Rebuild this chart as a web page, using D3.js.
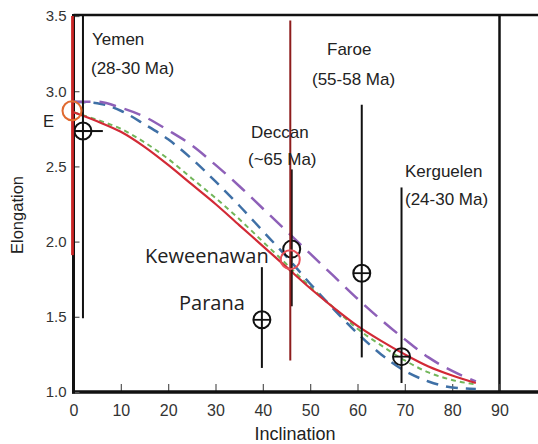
<!DOCTYPE html>
<html>
<head>
<meta charset="utf-8">
<script src="https://cdn.jsdelivr.net/npm/d3@7"></script>
<style>
  body { margin: 0; background: #fff; }
  svg { display: block; }
</style>
</head>
<body>
<div id="chart"></div>
<script>
// Model curves: elongation vs inclination
const inclGrid = [0, 5, 10, 15, 20, 25, 30, 35, 40, 45, 50, 55, 60, 65, 70, 75, 80, 85];
const redE    = [2.86, 2.80, 2.73, 2.63, 2.51, 2.38, 2.25, 2.11, 1.97, 1.83, 1.69, 1.56, 1.44, 1.34, 1.25, 1.17, 1.11, 1.06];
const greenE  = [2.86, 2.81, 2.75, 2.66, 2.55, 2.42, 2.29, 2.15, 2.00, 1.85, 1.70, 1.56, 1.42, 1.31, 1.21, 1.13, 1.08, 1.05];
const blueE   = [2.93, 2.92, 2.87, 2.78, 2.68, 2.55, 2.40, 2.24, 2.07, 1.90, 1.72, 1.55, 1.39, 1.25, 1.14, 1.07, 1.03, 1.02];
const purpleE = [2.93, 2.93, 2.89, 2.83, 2.74, 2.64, 2.51, 2.37, 2.22, 2.07, 1.92, 1.77, 1.62, 1.48, 1.35, 1.23, 1.14, 1.07];

// observed sites (black circles)
const sites    = ['Yemen', 'Deccan', 'Parana', 'Faroe', 'Kerguelen'];
const siteIncl = [2, 46.1, 39.8, 60.9, 69.3];
const siteE    = [2.735, 1.95, 1.48, 1.79, 1.235];
const siteLow  = [1.49, 1.57, 1.16, 1.23, 1.06];
const siteHigh = [3.5, 2.48, 1.83, 2.91, 2.36];
const siteCross = [true, false, true, true, true];
const yemenInclRange = [0, 6.2];

// reference E values (orange circles) with red bars
const refIncl = [0, 45.8];
const refE    = [2.87, 1.88];
const refLow  = [1.91, 1.21];
const refHigh = [3.5, 3.47];

const xTicks = [0, 10, 20, 30, 40, 50, 60, 70, 80, 90];
const yTicks = [1.0, 1.5, 2.0, 2.5, 3.0, 3.5];

const W = 538, H = 444;
const svg = d3.select('#chart').append('svg').attr('width', W).attr('height', H);

const x = d3.scaleLinear().domain([0, 90]).range([73.5, 499.5]);
const y = d3.scaleLinear().domain([1, 3.5]).range([392, 16]);

const font = 'Liberation Sans, Arial, Helvetica, sans-serif';

// frame lines (top and right part of the box)
svg.append('line').attr('x1', x(0)).attr('x2', W).attr('y1', 15).attr('y2', 15)
  .attr('stroke', '#111').attr('stroke-width', 2.5);
svg.append('line').attr('x1', x(90)).attr('x2', x(90)).attr('y1', 15).attr('y2', y(1))
  .attr('stroke', '#111').attr('stroke-width', 2.5);

// x axis
const xAxis = svg.append('g').attr('transform', 'translate(0,' + y(1) + ')')
  .call(d3.axisBottom(x).tickValues(xTicks).tickSizeInner(-8).tickSizeOuter(0).tickPadding(13));
xAxis.select('.domain').remove();
xAxis.selectAll('.tick line').attr('stroke', '#555').attr('stroke-width', 1.2);
xAxis.selectAll('text').attr('font-family', font).attr('font-size', 16).attr('fill', '#333');
svg.append('line').attr('x1', x(0) - 1.5).attr('x2', W).attr('y1', y(1)).attr('y2', y(1))
  .attr('stroke', '#111').attr('stroke-width', 3.5);

// y axis
const yAxis = svg.append('g').attr('transform', 'translate(' + x(0) + ',0)')
  .call(d3.axisLeft(y).tickValues(yTicks).tickFormat(d3.format('.1f')).tickSizeInner(-6).tickSizeOuter(0).tickPadding(7));
yAxis.select('.domain').remove();
yAxis.selectAll('.tick line').attr('stroke', '#555').attr('stroke-width', 1.2);
yAxis.selectAll('text').attr('font-family', font).attr('font-size', 15).attr('fill', '#333');
svg.append('line').attr('x1', x(0)).attr('x2', x(0)).attr('y1', 14).attr('y2', y(1) + 1.5)
  .attr('stroke', '#111').attr('stroke-width', 3);

// axis titles
svg.append('text').attr('transform', 'translate(23,215) rotate(-90)')
  .attr('text-anchor', 'middle').attr('font-family', font).attr('font-size', 16.5)
  .attr('fill', '#222').text('Elongation');
svg.append('text').attr('x', 295).attr('y', 440)
  .attr('text-anchor', 'middle').attr('font-family', font).attr('font-size', 18)
  .attr('fill', '#222').text('Inclination');

// model curves
const line = d3.line().x(d => x(d[0])).y(d => y(d[1])).curve(d3.curveMonotoneX);
const curves = [
  { vals: greenE, color: '#72b65a', width: 2, dash: '5,4' },
  { vals: blueE, color: '#3f70a6', width: 2.5, dash: '12,8' },
  { vals: purpleE, color: '#8e60b8', width: 2.5, dash: '17,9' },
  { vals: redE, color: '#d22a36', width: 2.2, dash: null }
];
curves.forEach(c => {
  svg.append('path')
    .datum(inclGrid.map((v, i) => [v, c.vals[i]]))
    .attr('d', line)
    .attr('fill', 'none')
    .attr('stroke', c.color)
    .attr('stroke-width', c.width)
    .attr('stroke-dasharray', c.dash);
});

// site error bars and circles
sites.forEach((s, i) => {
  svg.append('line')
    .attr('x1', x(siteIncl[i])).attr('x2', x(siteIncl[i]))
    .attr('y1', y(siteHigh[i])).attr('y2', y(siteLow[i]))
    .attr('stroke', '#111').attr('stroke-width', 2);
});
svg.append('line')
  .attr('x1', x(yemenInclRange[0])).attr('x2', x(yemenInclRange[1]))
  .attr('y1', y(siteE[0])).attr('y2', y(siteE[0]))
  .attr('stroke', '#111').attr('stroke-width', 2);
sites.forEach((s, i) => {
  const cx = x(siteIncl[i]), cy = y(siteE[i]);
  svg.append('circle').attr('cx', cx).attr('cy', cy).attr('r', 8.5)
    .attr('fill', 'none').attr('stroke', '#111').attr('stroke-width', 2);
  if (siteCross[i]) {
    svg.append('line').attr('x1', cx - 8.5).attr('x2', cx + 8.5).attr('y1', cy).attr('y2', cy)
      .attr('stroke', '#111').attr('stroke-width', 1.8);
  }
});

// reference red bars and orange circles
const refBarColor = ['#cc2626', '#8e1d1d'];
const refCircColor = ['#e06a30', '#e8505a'];
refIncl.forEach((v, i) => {
  svg.append('line')
    .attr('x1', x(v) - (i === 0 ? 1 : 0)).attr('x2', x(v) - (i === 0 ? 1 : 0))
    .attr('y1', y(refHigh[i])).attr('y2', y(refLow[i]))
    .attr('stroke', refBarColor[i]).attr('stroke-width', i === 0 ? 2.8 : 2);
  svg.append('circle').attr('cx', x(v) - (i === 0 ? 1.5 : 0)).attr('cy', y(refE[i])).attr('r', 9.5)
    .attr('fill', 'none').attr('stroke', refCircColor[i]).attr('stroke-width', 2);
});

// site labels
const labels = [
  { t: 'Yemen', x: 92, y: 45 },
  { t: '(28-30 Ma)', x: 91, y: 74 },
  { t: 'Faroe', x: 327, y: 55 },
  { t: '(55-58 Ma)', x: 312, y: 85 },
  { t: 'Deccan', x: 251, y: 138 },
  { t: '(~65 Ma)', x: 248, y: 165 },
  { t: 'Kerguelen', x: 405, y: 177 },
  { t: '(24-30 Ma)', x: 405, y: 205 }
];
labels.forEach(l => {
  svg.append('text').attr('x', l.x).attr('y', l.y)
    .attr('font-family', font).attr('font-size', 17).attr('fill', '#222').text(l.t);
});
svg.append('text').attr('x', 145).attr('y', 263)
  .attr('font-family', 'Open Sans, sans-serif').attr('font-size', 20).attr('fill', '#222').text('Keweenawan');
svg.append('text').attr('x', 179).attr('y', 310)
  .attr('font-family', 'Open Sans, sans-serif').attr('font-size', 20).attr('fill', '#222').text('Parana');
svg.append('text').attr('x', 43).attr('y', 127)
  .attr('font-family', font).attr('font-size', 16.5).attr('fill', '#222').text('E');
</script>
</body>
</html>
